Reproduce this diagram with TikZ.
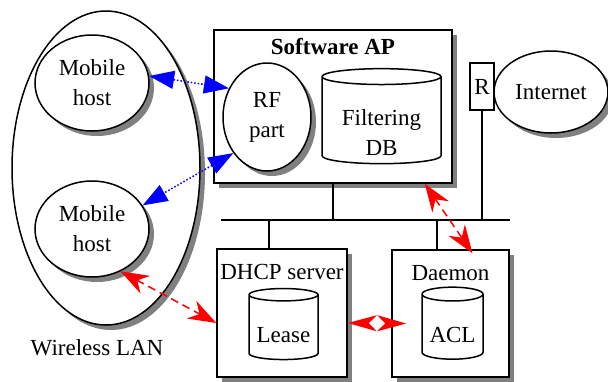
\documentclass[tikz,border=0pt]{standalone}
\usepackage{fontspec}
\setmainfont{Liberation Serif}
\usetikzlibrary{shapes.geometric,shadows,arrows.meta}
\begin{document}
\begin{tikzpicture}[x=1pt,y=-1pt,line width=1.5pt,
        font=\fontsize{23}{30}\selectfont,
        >={Stealth[length=28pt,width=20pt,inset=9pt]},
        shad/.style={drop shadow={shadow xshift=5pt,shadow yshift=-5pt,fill=black!50,opacity=1}},
        oval/.style={ellipse,draw,fill=white,inner sep=0pt,align=center,shad},
        box/.style={rectangle,draw,fill=white,inner sep=0pt},
        db/.style={cylinder,shape border rotate=90,draw,fill=white,inner sep=0pt,align=center},
        bluearrow/.style={{Triangle[length=25pt,width=18pt]}-{Triangle[length=25pt,width=18pt]},blue,dotted},
        redarrow/.style={<->,red,dash pattern=on 8pt off 5pt}]
    \useasboundingbox (0,0) rectangle (608,381);
    \node[oval,minimum width=188pt,minimum height=314pt] (wlan) at (106,168) {};
    \node (wlanlabel) at (97,348) {Wireless LAN};
    \node[oval,minimum width=114pt,minimum height=96pt] (mh1) at (92,83) {Mobile\\host};
    \node[oval,minimum width=114pt,minimum height=96pt] (mh2) at (92,229) {Mobile\\host};
    \node[box,shad,minimum width=238pt,minimum height=153pt] (ap) at (333,106.5) {};
    \node[font=\fontsize{23}{30}\selectfont\bfseries] (aptitle) at (333,47) {Software AP};
    \node[oval,minimum width=88pt,minimum height=108pt] (rf) at (267,117) {RF\\part};
    \node[db,minimum width=119pt,minimum height=95pt,aspect=0.2] (fdb) at (381.5,120.5) {\phantom{Filtering}\\\phantom{DB}};
    \node[align=center] (fdbtext) at ([yshift=-12pt]fdb.center) {Filtering\\DB};
    \node[box,minimum width=24pt,minimum height=47pt] (r) at (482,86.5) {R};
    \node[oval,minimum width=114pt,minimum height=82pt] (inet) at (551,92) {Internet};
    \node[box,shad,minimum width=130pt,minimum height=128pt] (dhcp) at (282,313) {};
    \node (dhcplabel) at (282,272) {DHCP server};
    \node[db,minimum width=69pt,minimum height=71pt,aspect=0.23] (lease) at (283.5,327.5) {\phantom{Lease}};
    \node (leasetext) at ([yshift=-8pt]lease.center) {Lease};
    \node[box,shad,minimum width=117pt,minimum height=127pt] (dm) at (450.5,313.5) {};
    \node (dmlabel) at (450.5,273) {Daemon};
    \node[db,minimum width=61pt,minimum height=72pt,aspect=0.3] (acl) at (452.5,327) {\phantom{ACL}};
    \node (acltext) at ([yshift=-8pt]acl.center) {ACL};
    \coordinate (busL) at (221,220);
    \coordinate (busR) at (510,220);
    \coordinate (dhcptap) at (269,220);
    \coordinate (dmtap) at (437,220);
    \draw (busL) -- (busR);
    \draw (ap.south) -- (ap.south |- busL);
    \draw (dhcptap) -- (dhcptap |- dhcp.north);
    \draw (dmtap) -- (dmtap |- dm.north);
    \draw (r.south) -- (r.south |- busL);
    \draw[bluearrow] (mh1.7) -- (rf.143);
    \draw[bluearrow] (rf.227) -- (mh2.25);
    \draw[redarrow] ([xshift=-28pt]ap.south east) -- ([xshift=22pt,yshift=-4pt]dm.north);
    \draw[redarrow] (mh2.-56) -- ([yshift=-10pt]dhcp.west);
    \draw[redarrow,{Stealth[length=29pt,width=16pt,inset=8pt]}-{Stealth[length=29pt,width=16pt,inset=8pt]},dash pattern=on 0pt off 20pt] ([yshift=-10pt]dhcp.east) -- ([xshift=15pt,yshift=-10pt]dm.west);
\end{tikzpicture}
\end{document}
